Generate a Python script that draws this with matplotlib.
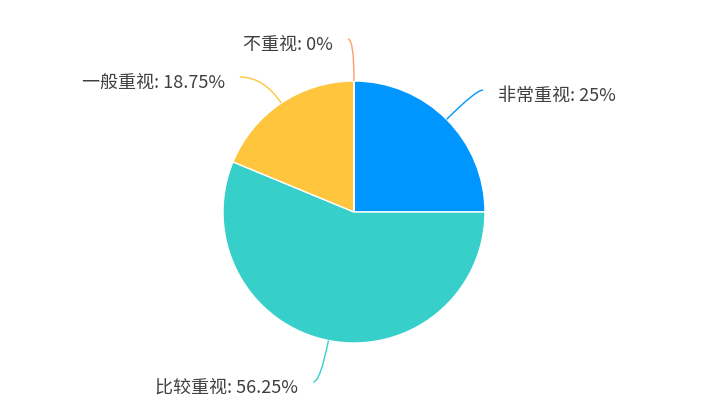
import numpy as np
import matplotlib.pyplot as plt
from matplotlib.path import Path
from matplotlib.patches import PathPatch

plt.rcParams['font.family'] = ['Noto Sans CJK SC', 'DejaVu Sans']

labels = ['非常重视', '比较重视', '一般重视', '不重视']
values = [25, 56.25, 18.75, 0]
colors = ['#0096FF', '#36CFC9', '#FFC53D', '#FF9C6E']

# label layout (pixel y of the leader-line end, horizontal arm length)
label_py = [90, 382, 77, 39]
arm = [7, 7, 24, 6]

W, H = 708, 408
cx, cy, r = 354, H - 212, 131

fig = plt.figure(figsize=(W / 100, H / 100), dpi=100)
ax = fig.add_axes([0, 0, 1, 1])

ax.pie(values, colors=colors, startangle=90, counterclock=False,
       center=(cx, cy), radius=r, frame=True,
       wedgeprops=dict(edgecolor='white', linewidth=1))
ax.set_xlim(0, W)
ax.set_ylim(0, H)
ax.set_aspect('equal')
ax.axis('off')

total = sum(values)
cum = 0
for lab, v, col, py, a in zip(labels, values, colors, label_py, arm):
    mid = np.deg2rad(90 - 360 * (cum + v / 2) / total)
    cum += v
    ux, uy = np.cos(mid), np.sin(mid)
    ex, ey = cx + r * ux, cy + r * uy
    ly = H - py
    t = (ly - ey) / uy if abs(uy) > 1e-6 else 40
    kx, ky = ex + t * ux, ly
    side = 1 if ux > 1e-6 else -1
    endx = kx + side * a
    path = Path([(ex, ey), (kx, ky), (endx, ly)],
                [Path.MOVETO, Path.CURVE3, Path.CURVE3])
    ax.add_patch(PathPatch(path, fill=False, edgecolor=col, linewidth=1))
    txt = '%s: %s%%' % (lab, ('%g' % v))
    ax.text(endx + side * 15, ly - 6, txt, fontsize=13, color='#404040',
            ha='left' if side > 0 else 'right', va='center')

fig.savefig('out.png', dpi=100)
